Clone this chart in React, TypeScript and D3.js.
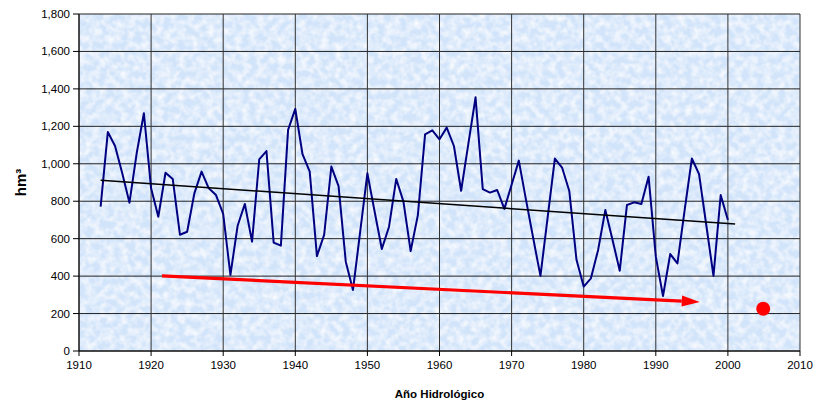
import React from "react";
import * as d3 from "d3";

const years: number[] = [
  1913, 1914, 1915, 1916, 1917, 1918, 1919, 1920, 1921, 1922, 1923, 1924, 1925, 1926, 1927, 1928, 1929, 1930,
  1931, 1932, 1933, 1934, 1935, 1936, 1937, 1938, 1939, 1940, 1941, 1942, 1943, 1944, 1945, 1946, 1947, 1948, 1949, 1950,
  1951, 1952, 1953, 1954, 1955, 1956, 1957, 1958, 1959, 1960, 1961, 1962, 1963, 1964, 1965, 1966, 1967, 1968, 1969, 1970,
  1971, 1972, 1973, 1974, 1975, 1976, 1977, 1978, 1979, 1980, 1981, 1982, 1983, 1984, 1985, 1986, 1987, 1988, 1989, 1990,
  1991, 1992, 1993, 1994, 1995, 1996, 1997, 1998, 1999, 2000,
];
const volumes: number[] = [
  771, 1170, 1095, 949, 792, 1056, 1270, 869, 717, 952, 919, 621, 637, 842, 958, 869, 833, 732,
  406, 669, 785, 584, 1024, 1068, 579, 563, 1181, 1293, 1051, 958, 507, 620, 985, 881, 477, 326, 637, 949,
  745, 545, 664, 919, 798, 534, 726, 1157, 1179, 1131, 1193, 1095, 856, 1106, 1355, 865, 846, 860, 759, 888,
  1017, 807, 602, 401, 714, 1028, 980, 855, 487, 344, 388, 540, 753, 593, 429, 780, 794, 785, 931, 504,
  294, 518, 468, 753, 1028, 945, 673, 401, 833, 700,
];
const trendYears: number[] = [1913, 2001];
const trendValues: number[] = [912, 678];
const arrowYears: number[] = [1921.5, 1996.1];
const arrowValues: number[] = [401, 262];
const dotYear = 2004.9;
const dotValue = 226;
const xTicks: number[] = [1910, 1920, 1930, 1940, 1950, 1960, 1970, 1980, 1990, 2000, 2010];
const yTicks: number[] = [0, 200, 400, 600, 800, 1000, 1200, 1400, 1600, 1800];
const yLabel = "hm³";
const xLabel = "Año Hidrológico";

const W = 815;
const H = 404;
const L = 79;
const R = 800;
const T = 14;
const B = 351;

export default function App() {
  const x = d3.scaleLinear().domain([1910, 2010]).range([L, R]);
  const y = d3.scaleLinear().domain([0, 1800]).range([B, T]);
  const fmt = d3.format(",");
  const line = d3
    .line<number>()
    .x((_, i) => x(years[i]))
    .y((d) => y(d));
  const trend = d3
    .line<number>()
    .x((_, i) => x(trendYears[i]))
    .y((d) => y(d));

  const ax0 = x(arrowYears[0]);
  const ay0 = y(arrowValues[0]);
  const ax1 = x(arrowYears[1]);
  const ay1 = y(arrowValues[1]);
  const ang = Math.atan2(ay1 - ay0, ax1 - ax0);
  const headLen = 18;
  const headW = 5.5;
  const bx = ax1 - headLen * Math.cos(ang);
  const by = ay1 - headLen * Math.sin(ang);
  const px = -Math.sin(ang);
  const py = Math.cos(ang);
  const head = `M${ax1},${ay1} L${bx + px * headW},${by + py * headW} L${bx - px * headW},${by - py * headW} Z`;

  const font = "'Liberation Sans', Arial, sans-serif";

  return (
    <svg
      width={W}
      height={H}
      style={{ position: "absolute", left: 0, top: 0, background: "#fff" }}
      fontFamily={font}
    >
      <defs>
        <filter id="paper" x="0" y="0" width="100%" height="100%">
          <feTurbulence type="fractalNoise" baseFrequency="0.14" numOctaves="2" seed="7" result="n" />
          <feColorMatrix
            in="n"
            type="matrix"
            values="0 0 0 0 1  0 0 0 0 1  0 0 0 0 1  1.6 0 0 0 -0.55"
            result="w"
          />
          <feComposite in="w" in2="SourceGraphic" operator="over" />
        </filter>
        <clipPath id="plotclip">
          <rect x={L} y={T} width={R - L} height={B - T} />
        </clipPath>
      </defs>
      <rect x={L} y={T} width={R - L} height={B - T} fill="#d2e4fa" filter="url(#paper)" />

      {yTicks.map((t) => (
        <line key={"h" + t} x1={L} x2={R} y1={y(t)} y2={y(t)} stroke="#222" strokeWidth={1} />
      ))}
      {xTicks.map((t) => (
        <line key={"v" + t} x1={x(t)} x2={x(t)} y1={T} y2={B} stroke="#333" strokeWidth={1} />
      ))}

      <line x1={L} x2={L} y1={T} y2={B} stroke="#000" strokeWidth={1} />
      <line x1={L} x2={R} y1={B} y2={B} stroke="#000" strokeWidth={1} />
      {yTicks.map((t) => (
        <g key={"yt" + t}>
          <line x1={L - 6} x2={L} y1={y(t)} y2={y(t)} stroke="#000" />
          <text x={L - 9} y={y(t)} dy="0.35em" textAnchor="end" fontSize={11.5} fill="#000">
            {fmt(t)}
          </text>
        </g>
      ))}
      {xTicks.map((t) => (
        <g key={"xt" + t}>
          <line x1={x(t)} x2={x(t)} y1={B} y2={B + 5} stroke="#000" />
          <text x={x(t)} y={B + 18} textAnchor="middle" fontSize={11.5} fill="#000">
            {t}
          </text>
        </g>
      ))}

      <g clipPath="url(#plotclip)">
        <path d={line(volumes) || ""} fill="none" stroke="#000080" strokeWidth={2} strokeLinejoin="round" />
        <path d={trend(trendValues) || ""} fill="none" stroke="#000" strokeWidth={1.5} />
        <line x1={ax0} y1={ay0} x2={bx} y2={by} stroke="#ff0000" strokeWidth={3.2} />
        <path d={head} fill="#ff0000" />
        <circle cx={x(dotYear)} cy={y(dotValue)} r={7} fill="#ff0000" />
      </g>

      <text
        transform={`translate(26, ${(T + B) / 2}) rotate(-90)`}
        textAnchor="middle"
        fontSize={15}
        fontWeight="bold"
        fill="#000"
      >
        {yLabel}
      </text>
      <text x={(L + R) / 2} y={398} textAnchor="middle" fontSize={11.5} fontWeight="bold" fill="#000">
        {xLabel}
      </text>
    </svg>
  );
}
